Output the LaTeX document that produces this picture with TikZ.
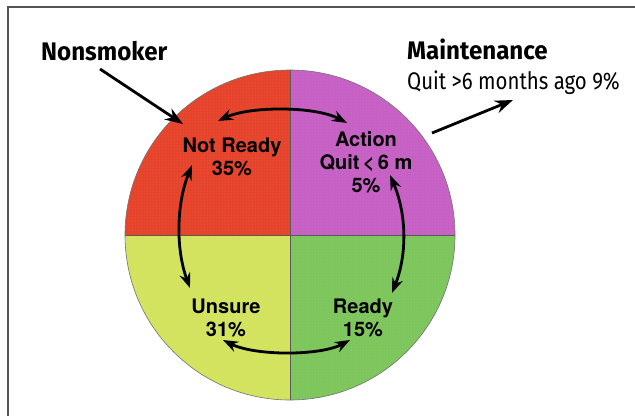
\documentclass[tikz,border=0pt]{standalone}
\usepackage{fontspec}
\usetikzlibrary{arrows.meta,patterns}
\newfontfamily\headfont{Fira Sans}[FakeStretch=0.95]
\newfontfamily\subfont{Fira Sans}[FakeStretch=0.85]
\newfontfamily\stagefont{TeX Gyre Heros}

\definecolor{qred}{HTML}{E6432B}
\definecolor{qmag}{HTML}{C660C4}
\definecolor{qyel}{HTML}{D3E35E}
\definecolor{qgrn}{HTML}{7DC65C}
\definecolor{framegray}{HTML}{555555}

\tikzset{
  frameline/.style={draw=framegray, line width=2pt},
  halftone/.style={pattern=dots, pattern color=white, opacity=0.18},
  divider/.style={draw=black!65, line width=0.8pt},
  stage/.style={font=\stagefont\bfseries\fontsize{20}{23}\selectfont, align=center, inner sep=0pt},
  heading/.style={font=\headfont\bfseries\fontsize{25.4}{30}\selectfont, inner sep=0pt},
  subheading/.style={font=\subfont\fontsize{24}{28}\selectfont, inner sep=0pt},
  cycle/.style={line width=2.8pt, {Stealth[length=15pt,width=11pt]}-{Stealth[length=15pt,width=11pt]}},
  pointer/.style={line width=2.8pt, -{Stealth[length=18pt,width=13pt]}}
}

\begin{document}
\begin{tikzpicture}[x=1pt, y=-1pt]
  \useasboundingbox (0,0) rectangle (635,416);
  \fill[white] (0,0) rectangle (635,416);

  % open frame: top and left edges
  \draw[frameline] (635,7) -- (8,7) -- (8,416);

  % four quadrants of the circle (y axis points down, so angles run clockwise)
  \coordinate (c) at (290,235);
  \fill[qred] (c) -- (125,235) arc[start angle=180, end angle=270, radius=165] -- cycle;
  \fill[qmag] (c) -- (290,70) arc[start angle=-90, end angle=0, radius=165] -- cycle;
  \fill[qgrn] (c) -- (455,235) arc[start angle=0, end angle=90, radius=165] -- cycle;
  \fill[qyel] (c) -- (290,400) arc[start angle=90, end angle=180, radius=165] -- cycle;
  \fill[halftone] (c) circle[radius=165];
  \draw[divider] (290,70) -- (290,400);
  \draw[divider] (125,235) -- (455,235);
  \draw[draw=black!55, line width=0.6pt] (c) circle[radius=165];

  % stage labels, placed at the baseline of their last line
  \node[stage, anchor=base] (notready) at (232,175) {Not Ready\\35\%};
  \node[stage, anchor=base] (action) at (366,192) {Action\\Quit\,{<}\,6 m\\5\%};
  \node[stage, anchor=base] (unsure) at (226,336) {Unsure\\31\%};
  \node[stage, anchor=base] (ready) at (363,336) {Ready\\15\%};

  % outside labels
  \node[heading, anchor=base west] (nonsmoker) at (41,60) {Nonsmoker};
  \node[heading, anchor=base west] (maint) at (407,59) {Maintenance};
  \node[subheading, anchor=base west] (maintsub) at (407,89) {Quit >6 months ago 9\%};

  % arrow end points
  \coordinate (nrTop) at (218,121);
  \coordinate (acTop) at (347,123);
  \coordinate (nrBot) at (192,165);
  \coordinate (unTop) at (190,288);
  \coordinate (acBot) at (390,175);
  \coordinate (rdTop) at (392,293);
  \coordinate (unBot) at (223,340);
  \coordinate (rdBot) at (350,340);
  \coordinate (nsStart) at (100,69);
  \coordinate (nsTip) at (183,124);
  \coordinate (mtStart) at (432,133);
  \coordinate (mtTip) at (513,100);

  % cycle between the stages
  \draw[cycle] (nrTop) .. controls (250,106) and (315,106) .. (acTop);
  \draw[cycle] (nrBot) .. controls (176,205) and (176,250) .. (unTop);
  \draw[cycle] (acBot) .. controls (407,215) and (407,255) .. (rdTop);
  \draw[cycle] (unBot) .. controls (255,356) and (320,356) .. (rdBot);

  % pointers from the outside labels
  \draw[pointer] (nsStart) -- (nsTip);
  \draw[pointer] (mtStart) -- (mtTip);
\end{tikzpicture}
\end{document}
